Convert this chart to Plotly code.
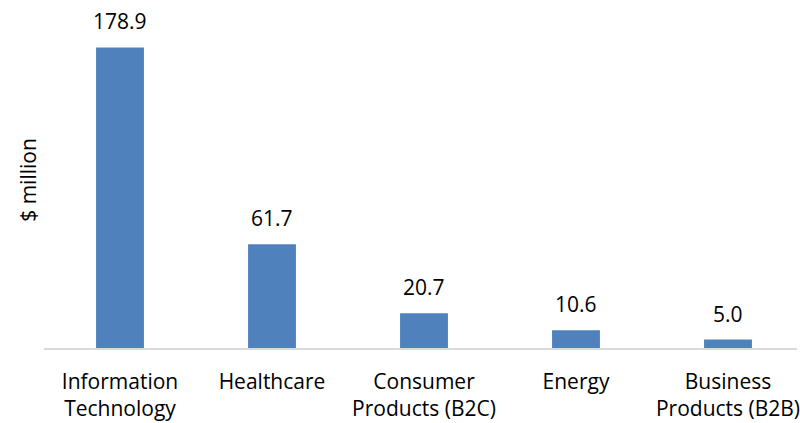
import plotly.graph_objects as go

categories = ["Information<br>Technology", "Healthcare", "Consumer<br>Products (B2C)", "Energy", "Business<br>Products (B2B)"]
values = [178.9, 61.7, 20.7, 10.6, 5.0]
value_labels = ["178.9", "61.7", "20.7", "10.6", "5.0"]

FONT = "Open Sans"
BAR_COLOR = "#4F81BD"
FS = 21

fig = go.Figure()
fig.add_trace(go.Bar(
    x=list(range(len(categories))),
    y=values,
    marker=dict(color=BAR_COLOR, line=dict(width=0)),
    hoverinfo="skip",
))

for i, (v, lab) in enumerate(zip(values, value_labels)):
    fig.add_annotation(
        x=i, y=v, text=lab, showarrow=False,
        yanchor="bottom", yshift=10,
        font=dict(family=FONT, size=FS, color="#000000"),
    )

fig.update_layout(
    width=800, height=423,
    margin=dict(l=44, r=0, t=12, b=75),
    paper_bgcolor="white", plot_bgcolor="white",
    bargap=0.685,
    showlegend=False,
    font=dict(family=FONT, size=FS, color="#000000"),
)
fig.update_xaxes(
    tickmode="array",
    tickvals=list(range(len(categories))),
    ticktext=categories,
    range=[-0.5, 4.454],
    showline=True, linecolor="#D9D9D9", linewidth=1.5,
    showgrid=False, zeroline=False, ticks="",
    tickfont=dict(family=FONT, size=FS, color="#000000"),
    tickangle=0,
    ticklabelstandoff=14,
    ticklabeloverflow="allow",
)
fig.update_yaxes(
    range=[0, 200],
    showgrid=False, zeroline=False, showline=False,
    showticklabels=False, ticks="",
    title=dict(text="$ million", font=dict(family=FONT, size=FS, color="#000000"), standoff=0),
)

fig.write_html("out.html")
